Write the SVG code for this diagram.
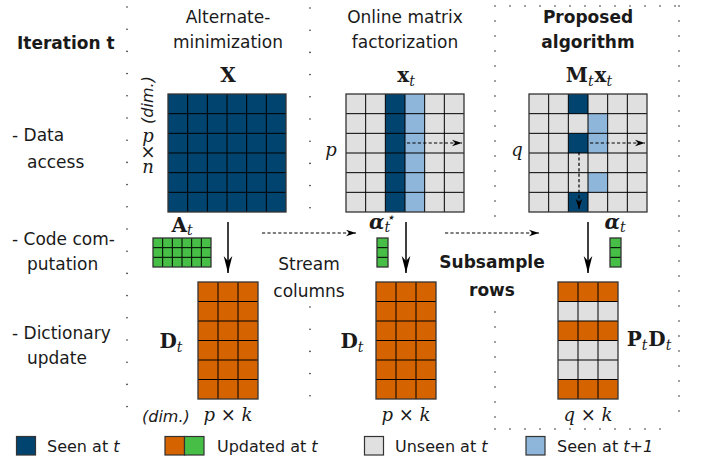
<svg xmlns="http://www.w3.org/2000/svg" width="703" height="461" viewBox="0 0 703 461">
<style>
text{font-family:"DejaVu Sans","Liberation Sans",sans-serif;fill:#1a1a1a}
.h{font-size:17px;text-anchor:middle}
.hb{font-size:17px;text-anchor:middle;font-weight:bold}
.l{font-size:17px}
.lg{font-size:16px}
.it{font-style:italic}
.m{font-family:"DejaVu Serif","Liberation Serif",serif;font-weight:bold;font-size:20px;text-anchor:middle}
.ms{font-family:"DejaVu Serif","Liberation Serif",serif;font-style:italic;font-weight:normal;font-size:14px}
.mi{font-family:"DejaVu Serif","Liberation Serif",serif;font-style:italic;font-size:18px;text-anchor:middle}
.dot{fill:none;stroke:#222;stroke-width:1.6;stroke-linecap:round}
.d22{stroke-dasharray:0 22.2}
.d15{stroke-dasharray:0 15}
.gl{fill:none;stroke:#000;stroke-width:1}
.bd{fill:none;stroke:#333;stroke-width:1.3}
.dk{fill:#00446F}
.lb{fill:#8EB6DA}
.gy{fill:#E0E0E0}
.or{fill:#D46300}
.gr{fill:#47BF47}
.sa{fill:none;stroke:#000;stroke-width:1.5}
.da{fill:none;stroke:#000;stroke-width:1.2;stroke-dasharray:3.2 2.2}
</style>
<defs>
<marker id="ah" markerUnits="userSpaceOnUse" viewBox="-18 -5 19 10" refX="0" refY="0" markerWidth="19" markerHeight="10" orient="auto">
<path d="M0,0 L-17,-4.3 L-12,0 L-17,4.3 Z" fill="#000"/>
</marker>
<marker id="dh" markerUnits="userSpaceOnUse" viewBox="-11 -4 12 8" refX="0" refY="0" markerWidth="12" markerHeight="8" orient="auto">
<path d="M0,0 L-10,-3.3 L-7,0 L-10,3.3 Z" fill="#000"/>
</marker>
</defs>

<g id="separators">
<path class="dot d22" d="M127,7 V407"/>
<path class="dot d22" d="M310,8 V208 M310,307 V418"/>
<path class="dot d15" d="M495,6 H679 M679,6 V426 M495,429 H675 M495,21 V220 M495,312 V420"/>
</g>

<g id="row-labels">
<text class="l" x="17" y="49" font-weight="bold">Iteration t</text>
<text class="l" x="12" y="141">- Data</text>
<text class="l" x="27" y="168">access</text>
<text class="l" x="12" y="245">- Code com-</text>
<text class="l" x="27" y="270">putation</text>
<text class="l" x="12" y="339">- Dictionary</text>
<text class="l" x="27" y="364">update</text>
</g>

<g id="headers">
<text class="h" x="228" y="23">Alternate-</text>
<text class="h" x="228" y="48">minimization</text>
<text class="h" x="405" y="23">Online matrix</text>
<text class="h" x="405" y="48">factorization</text>
<text class="hb" x="588" y="23">Proposed</text>
<text class="hb" x="588" y="48">algorithm</text>
</g>

<g id="node-X">
<text class="m" x="228" y="82" font-size="21">X</text>
<text class="it" font-size="16" transform="translate(153,100) rotate(-90)" text-anchor="middle">(dim.)</text>
<text class="mi" font-size="17"><tspan x="148" y="142">p</tspan><tspan x="148" y="158">×</tspan><tspan x="148" y="173">n</tspan></text>
<rect class="dk" x="168" y="94" width="118" height="118"/>
<path class="gl" d="M187.67,94V212M207.33,94V212M227,94V212M246.67,94V212M266.33,94V212M168,113.67H286M168,133.33H286M168,153H286M168,172.67H286M168,192.33H286"/>
<rect class="bd" x="168" y="94" width="118" height="118"/>
</g>

<g id="node-xt">
<text class="m" x="406" y="82" font-size="21">x<tspan class="ms" dy="4">t</tspan></text>
<text class="mi" x="331" y="156">p</text>
<rect class="gy" x="346" y="94" width="118" height="118"/>
<rect class="dk" x="385.33" y="94" width="19.67" height="118"/>
<rect class="lb" x="405" y="94" width="19.67" height="118"/>
<path class="gl" d="M365.67,94V212M385.33,94V212M405,94V212M424.67,94V212M444.33,94V212M346,113.67H464M346,133.33H464M346,153H464M346,172.67H464M346,192.33H464"/>
<rect class="bd" x="346" y="94" width="118" height="118"/>
</g>

<g id="node-Mtxt">
<text class="m" x="589" y="82" font-size="21">M<tspan class="ms" dy="4">t</tspan><tspan dx="1" dy="-4">x</tspan><tspan class="ms" dy="4">t</tspan></text>
<text class="mi" x="517" y="156">q</text>
<rect class="gy" x="529" y="94" width="118" height="118"/>
<rect class="dk" x="568.33" y="94" width="19.67" height="19.67"/>
<rect class="dk" x="568.33" y="133.33" width="19.67" height="19.67"/>
<rect class="dk" x="568.33" y="192.33" width="19.67" height="19.67"/>
<rect class="lb" x="588" y="113.67" width="19.67" height="19.67"/>
<rect class="lb" x="588" y="133.33" width="19.67" height="19.67"/>
<rect class="lb" x="588" y="172.67" width="19.67" height="19.67"/>
<path class="gl" d="M548.67,94V212M568.33,94V212M588,94V212M607.67,94V212M627.33,94V212M529,113.67H647M529,133.33H647M529,153H647M529,172.67H647M529,192.33H647"/>
<rect class="bd" x="529" y="94" width="118" height="118"/>
</g>

<g id="node-At">
<text class="m" x="182" y="232" font-size="17">A<tspan class="ms" font-size="12" dy="3">t</tspan></text>
<rect class="gr" x="153" y="238" width="58" height="29"/>
<path class="gl" d="M162.67,238V267M172.33,238V267M182,238V267M191.67,238V267M201.33,238V267M153,247.67H211M153,257.33H211"/>
<rect class="bd" x="153" y="238" width="58" height="29"/>
</g>

<g id="node-alpha-star">
<text class="m" x="382" y="229" font-style="italic" font-size="17">α<tspan class="ms" font-size="12" dy="3">t</tspan><tspan class="ms" font-size="10" dx="-4" dy="-10">⋆</tspan></text>
<rect class="gr" x="377" y="238" width="11" height="29"/>
<path class="gl" d="M377,247.67H388M377,257.33H388"/>
<rect class="bd" x="377" y="238" width="11" height="29"/>
</g>

<g id="node-alpha">
<text class="m" x="615" y="229" font-style="italic" font-size="17">α<tspan class="ms" font-size="12" dy="3">t</tspan></text>
<rect class="gr" x="610" y="238" width="11" height="29"/>
<path class="gl" d="M610,247.67H621M610,257.33H621"/>
<rect class="bd" x="610" y="238" width="11" height="29"/>
</g>

<g id="node-D1">
<text class="m" x="171" y="348" font-size="21">D<tspan class="ms" dy="4">t</tspan></text>
<rect class="or" x="198" y="282" width="60" height="117"/>
<path class="gl" d="M218,282V399M238,282V399M198,301.5H258M198,321H258M198,340.5H258M198,360H258M198,379.5H258"/>
<rect class="bd" x="198" y="282" width="60" height="117"/>
<text class="lg it" x="142" y="422">(dim.)</text>
<text class="mi" x="228" y="421">p × k</text>
</g>

<g id="node-D2">
<text class="m" x="352" y="348" font-size="21">D<tspan class="ms" dy="4">t</tspan></text>
<rect class="or" x="376" y="282" width="60" height="117"/>
<path class="gl" d="M396,282V399M416,282V399M376,301.5H436M376,321H436M376,340.5H436M376,360H436M376,379.5H436"/>
<rect class="bd" x="376" y="282" width="60" height="117"/>
<text class="mi" x="406" y="421">p × k</text>
</g>

<g id="node-PtDt">
<text class="m" x="649" y="346" font-size="21">P<tspan class="ms" dy="4">t</tspan><tspan dx="1" dy="-4">D</tspan><tspan class="ms" dy="4">t</tspan></text>
<rect class="gy" x="558" y="282" width="60" height="117"/>
<rect class="or" x="558" y="282" width="60" height="19.5"/>
<rect class="or" x="558" y="321" width="60" height="19.5"/>
<rect class="or" x="558" y="379.5" width="60" height="19.5"/>
<path class="gl" d="M578,282V399M598,282V399M558,301.5H618M558,321H618M558,340.5H618M558,360H618M558,379.5H618"/>
<rect class="bd" x="558" y="282" width="60" height="117"/>
<text class="mi" x="588" y="421">q × k</text>
</g>

<g id="stream-label">
<text class="h" x="309" y="270">Stream</text>
<text class="h" x="309" y="297">columns</text>
</g>
<g id="subsample-label">
<text class="hb" x="492" y="268">Subsample</text>
<text class="hb" x="492" y="296">rows</text>
</g>

<g id="connectors">
<path class="sa" d="M228,222 V273" marker-end="url(#ah)"/>
<path class="sa" d="M406,222 V273" marker-end="url(#ah)"/>
<path class="sa" d="M588,222 V273" marker-end="url(#ah)"/>
<path class="da" d="M262,233 H356" marker-end="url(#dh)"/>
<path class="da" d="M445,233 H539" marker-end="url(#dh)"/>
<path class="da" d="M407,143 H462" marker-end="url(#dh)"/>
<path class="da" d="M590,143 H645" marker-end="url(#dh)"/>
<path class="da" d="M579,152 V209" marker-end="url(#dh)"/>
</g>

<g id="legend">
<rect class="dk" x="16.5" y="436.5" width="19" height="18.5" stroke="#333" stroke-width="1.2"/>
<text class="lg" x="47" y="452">Seen at <tspan class="it">t</tspan></text>
<rect class="or" x="165" y="436.5" width="19.5" height="18.5" stroke="#333" stroke-width="1.2"/>
<rect class="gr" x="184.5" y="436.5" width="19.5" height="18.5" stroke="#333" stroke-width="1.2"/>
<text class="lg" x="217" y="452">Updated at <tspan class="it">t</tspan></text>
<rect class="gy" x="364.5" y="436.5" width="19" height="18.5" stroke="#333" stroke-width="1.2"/>
<text class="lg" x="395" y="452">Unseen at <tspan class="it">t</tspan></text>
<rect class="lb" x="526" y="436.5" width="19" height="18.5" stroke="#333" stroke-width="1.2"/>
<text class="lg" x="557" y="452">Seen at <tspan class="it">t+1</tspan></text>
</g>
</svg>
